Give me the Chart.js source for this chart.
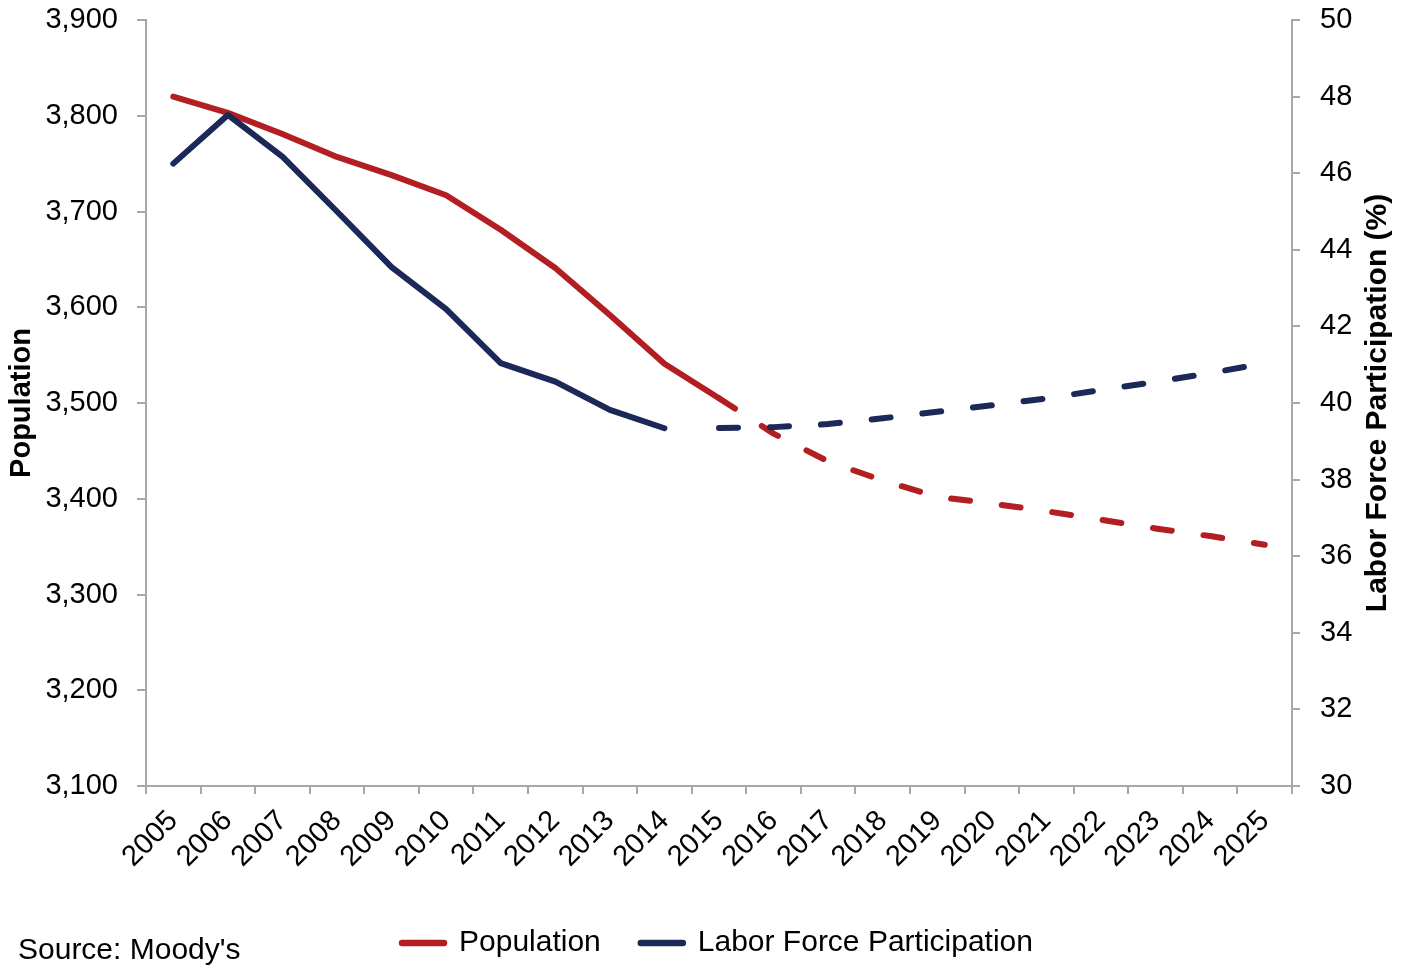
<!DOCTYPE html>
<html>
<head>
<meta charset="utf-8">
<title>Population and Labor Force Participation</title>
<script src="https://cdn.jsdelivr.net/npm/chart.js@4.4.1/dist/chart.umd.min.js"></script>
<style>
  html, body { margin: 0; padding: 0; background: #ffffff; }
  #wrap { position: relative; width: 1407px; height: 968px; }
</style>
</head>
<body>
<div id="wrap"><canvas id="chart" width="1407" height="968"></canvas></div>
<script>
// Years on the category axis
const years = ['2005', '2006', '2007', '2008', '2009', '2010', '2011', '2012', '2013', '2014', '2015',
               '2016', '2017', '2018', '2019', '2020', '2021', '2022', '2023', '2024', '2025'];

// Population (thousands): history 2005–2015, projection 2015–2025
const populationActual   = [3820, 3803, 3781, 3757, 3738, 3717, 3681, 3641, 3592, 3541, 3505];
const populationForecast = [3505, 3468, 3439, 3419, 3402, 3395, 3387, 3378, 3369, 3361, 3352];

// Labor force participation (%): history 2005–2014, projection 2015–2025
const participationActual   = [46.25, 47.52, 46.43, 45.0, 43.55, 42.45, 41.04, 40.56, 39.82, 39.34];
const participationForecast = [39.35, 39.37, 39.45, 39.6, 39.77, 39.94, 40.12, 40.34, 40.55, 40.78, 41.04];

// Axis tick values
const populationTicks    = [3100, 3200, 3300, 3400, 3500, 3600, 3700, 3800, 3900];
const participationTicks = [30, 32, 34, 36, 38, 40, 42, 44, 46, 48, 50];

const RED = '#B31E23';
const NAVY = '#1B2858';
const AXIS_GREY = '#A8A8A8';
const FONT = "'Liberation Sans', Arial, Helvetica, sans-serif";

// Place a partial series on the full year axis, leaving other years empty
function alignSeries(values, firstYear) {
  const start = years.indexOf(firstYear);
  return years.map((_, i) => (i >= start && i - start < values.length) ? values[i - start] : null);
}

const solidLine = { borderWidth: 6, pointRadius: 0, borderCapStyle: 'round', borderJoinStyle: 'round', tension: 0, fill: false };
const dashedLine = Object.assign({}, solidLine, { borderDash: [19, 32] });

// Rotated right-hand axis title and the source note
const sideText = {
  id: 'sideText',
  afterDraw(chart) {
    const { ctx, chartArea, scales } = chart;
    ctx.save();
    ctx.fillStyle = '#000000';
    ctx.font = 'bold 30px ' + FONT;
    ctx.textAlign = 'center';
    ctx.textBaseline = 'middle';
    ctx.translate(scales.y1.right - 29, (chartArea.top + chartArea.bottom) / 2);
    ctx.rotate(-Math.PI / 2);
    ctx.fillText('Labor Force Participation (%)', 0, 0);
    ctx.restore();

    ctx.save();
    ctx.fillStyle = '#000000';
    ctx.font = '30px ' + FONT;
    ctx.textAlign = 'left';
    ctx.textBaseline = 'middle';
    ctx.fillText("Source: Moody's", 18, 951);
    ctx.restore();
  }
};

const tickFont = { family: FONT, size: 29 };

// Fixed axis widths; tick labels may overhang the plot's top and bottom edges
function fixedWidth(width) {
  return scale => {
    scale.width = width;
    scale.paddingTop = 0;
    scale.paddingBottom = 0;
  };
}

new Chart(document.getElementById('chart'), {
  type: 'line',
  data: {
    labels: years,
    datasets: [
      Object.assign({ label: 'Labor Force Participation', data: alignSeries(participationActual, '2005'),
        borderColor: NAVY, backgroundColor: NAVY, yAxisID: 'y1' }, solidLine),
      Object.assign({ label: 'Labor Force Participation (projection)', data: alignSeries(participationForecast, '2015'),
        borderColor: NAVY, backgroundColor: NAVY, yAxisID: 'y1' }, dashedLine),
      Object.assign({ label: 'Population', data: alignSeries(populationActual, '2005'),
        borderColor: RED, backgroundColor: RED, yAxisID: 'y' }, solidLine),
      Object.assign({ label: 'Population (projection)', data: alignSeries(populationForecast, '2015'),
        borderColor: RED, backgroundColor: RED, yAxisID: 'y' }, dashedLine)
    ]
  },
  options: {
    responsive: false,
    animation: false,
    devicePixelRatio: 1,
    layout: { padding: { top: 20, left: 28, right: 0, bottom: 0 } },
    plugins: {
      tooltip: { enabled: false },
      legend: {
        position: 'bottom',
        labels: {
          font: { family: FONT, size: 30 },
          color: '#000000',
          usePointStyle: true,
          pointStyleWidth: 42,
          padding: 40,
          generateLabels(chart) {
            return [2, 0].map(i => {
              const ds = chart.data.datasets[i];
              return {
                text: ds.label, datasetIndex: i, hidden: false,
                pointStyle: 'line', strokeStyle: ds.borderColor, fillStyle: ds.borderColor,
                lineWidth: 6.5, lineCap: 'round', lineDash: [], fontColor: '#000000'
              };
            });
          }
        }
      }
    },
    scales: {
      x: {
        type: 'category',
        offset: true,
        grid: { display: true, drawOnChartArea: false, drawTicks: true, tickLength: 8, color: AXIS_GREY, lineWidth: 2, offset: true },
        border: { display: true, color: AXIS_GREY, width: 2 },
        ticks: { autoSkip: false, maxRotation: 45, minRotation: 45, padding: 10, color: '#000000', font: tickFont },
        afterFit(scale) { scale.height = 102; }
      },
      y: {
        position: 'left',
        min: 3100, max: 3900,
        grid: { drawOnChartArea: false, tickLength: 9, color: AXIS_GREY, lineWidth: 2 },
        border: { display: true, color: AXIS_GREY, width: 2 },
        afterBuildTicks(scale) { scale.ticks = populationTicks.map(v => ({ value: v })); },
        ticks: { padding: 19, color: '#000000', font: tickFont, callback: v => v.toLocaleString('en-US') },
        title: { display: true, text: 'Population', color: '#000000', font: { family: FONT, size: 29, weight: 'bold' }, padding: { top: -23, bottom: 0 } },
        afterFit: fixedWidth(118)
      },
      y1: {
        position: 'right',
        min: 30, max: 50,
        grid: { drawOnChartArea: false, tickLength: 8, color: AXIS_GREY, lineWidth: 2 },
        border: { display: true, color: AXIS_GREY, width: 2 },
        afterBuildTicks(scale) { scale.ticks = participationTicks.map(v => ({ value: v })); },
        ticks: { padding: 20, color: '#000000', font: tickFont },
        afterFit: fixedWidth(115)
      }
    }
  },
  plugins: [sideText]
});
</script>
</body>
</html>
